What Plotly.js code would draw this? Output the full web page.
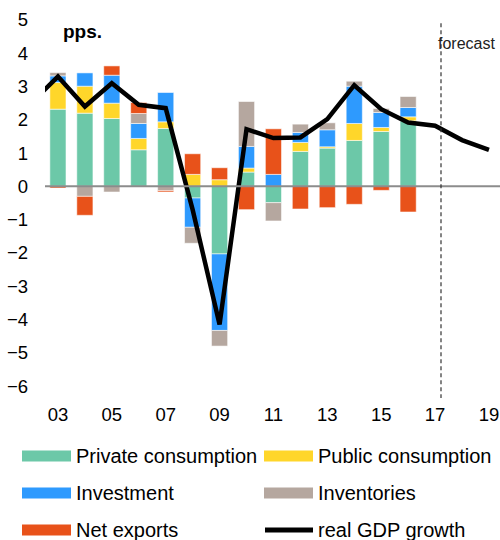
<!DOCTYPE html>
<html>
<head>
<meta charset="utf-8">
<script src="https://cdn.plot.ly/plotly-3.0.1.min.js"></script>
<style>
  html, body { margin: 0; padding: 0; background: #fff; }
  #chart { width: 500px; height: 540px; }
</style>
</head>
<body>
<div id="chart"></div>
<script>
// contributions to GDP growth, pps.
const years = [2003, 2004, 2005, 2006, 2007, 2008, 2009, 2010, 2011, 2012, 2013, 2014, 2015, 2016];
const privateCons = [2.32, 2.2, 2.04, 1.1, 1.74, -0.35, -2.03, 0.43, -0.49, 1.05, 1.15, 1.38, 1.65, 1.97];
const publicCons  = [0.8, 0.81, 0.46, 0.34, 0.2, 0.36, 0.2, 0.12, 0, 0.27, 0.04, 0.51, 0.12, 0.12];
const investment  = [0.2, 0.4, 0.84, 0.45, 0.88, -0.88, -2.3, 0.65, 0.36, 0.3, 0.51, 1.12, 0.45, 0.28];
const inventories = [0.1, -0.3, -0.17, 0.3, -0.13, -0.48, -0.47, 1.35, -0.55, 0.25, 0.21, 0.15, 0.12, 0.33];
const netExports  = [-0.05, -0.57, 0.28, 0.33, -0.04, 0.62, 0.36, -0.7, 1.37, -0.68, -0.64, -0.54, -0.12, -0.77];

// real GDP growth, % (2017-2019 forecast)
const gdpYears = [2002, 2003, 2004, 2005, 2006, 2007, 2008, 2009, 2010, 2011, 2012, 2013, 2014, 2015, 2016, 2017, 2018, 2019];
const gdpGrowth = [2.5, 3.3, 2.4, 3.1, 2.45, 2.35, -0.7, -4.15, 1.72, 1.45, 1.47, 2.02, 3.04, 2.32, 1.92, 1.82, 1.39, 1.1];

const tickYears = [2003, 2005, 2007, 2009, 2011, 2013, 2015, 2017, 2019];
const tickText = ['03', '05', '07', '09', '11', '13', '15', '17', '19'];
const forecastStart = 2017.22;

const FONT = 'Liberation Sans, Arial, sans-serif';

const series = [
    { name: 'Private consumption', y: privateCons, color: '#6CC8A8' },
    { name: 'Public consumption',  y: publicCons,  color: '#FFD62A' },
    { name: 'Investment',          y: investment,  color: '#2E9AFE' },
    { name: 'Inventories',         y: inventories, color: '#B5A79F' },
    { name: 'Net exports',         y: netExports,  color: '#E8521A' }
];

let traces = series.map(s => ({
    type: 'bar',
    name: s.name,
    x: years,
    y: s.y,
    width: 0.6,
    marker: { color: s.color, line: { color: 'rgba(255,255,255,0.55)', width: 1 } }
}));

traces.push({
    type: 'scatter',
    mode: 'lines',
    name: 'real GDP growth',
    x: gdpYears,
    y: gdpGrowth,
    line: { color: '#000000', width: 4.5 }
});

// plot box in pixels, used to place the hand made legend below it
const M = { l: 45, r: 0, t: 10, b: 142 };
const plotW = 500 - M.l - M.r;
const plotH = 540 - M.t - M.b;
const px = x => (x - M.l) / plotW;
const py = y => (540 - M.b - y) / plotH;

let shapes = [
    { type: 'line', xref: 'paper', yref: 'y', x0: 0, x1: 1, y0: 0, y1: 0,
      line: { color: '#8c8c8c', width: 2 }, layer: 'above' },
    { type: 'line', xref: 'x', yref: 'y', x0: forecastStart, x1: forecastStart, y0: 4.9, y1: -6.36,
      line: { color: '#333333', width: 1.2, dash: '4px,3px' }, layer: 'above' }
];

let annotations = [
    { xref: 'x', yref: 'y', x: 2003.1, y: 4.66, xanchor: 'left', yanchor: 'middle',
      text: '<b>pps.</b>', showarrow: false, font: { family: FONT, size: 19, color: '#000' } },
    { xref: 'x', yref: 'y', x: 2018.15, y: 4.3, xanchor: 'center', yanchor: 'middle',
      text: 'forecast', showarrow: false, font: { family: FONT, size: 16, color: '#222' } }
];

// legend: two columns, three rows
const legendRows = [456, 493, 530];
const legendCols = [22, 264];
const legendItems = series.map(s => ({ name: s.name, color: s.color, kind: 'rect' }));
legendItems.push({ name: 'real GDP growth', color: '#000000', kind: 'line' });

legendItems.forEach((item, i) => {
    let cx = legendCols[i % 2];
    let cy = legendRows[Math.floor(i / 2)];
    if (item.kind === 'rect') {
        shapes.push({ type: 'rect', xref: 'paper', yref: 'paper',
            x0: px(cx), x1: px(cx + 49), y0: py(cy - 5.5), y1: py(cy + 5.5),
            fillcolor: item.color, line: { width: 0 } });
    } else {
        shapes.push({ type: 'line', xref: 'paper', yref: 'paper',
            x0: px(cx + 1), x1: px(cx + 49), y0: py(cy), y1: py(cy),
            line: { color: item.color, width: 5 } });
    }
    annotations.push({ xref: 'paper', yref: 'paper', x: px(cx + 52), y: py(cy),
        xanchor: 'left', yanchor: 'middle', text: item.name, showarrow: false,
        font: { family: FONT, size: 20, color: '#000' } });
});

const layout = {
    width: 500, height: 540,
    margin: M,
    paper_bgcolor: '#ffffff', plot_bgcolor: '#ffffff',
    barmode: 'relative',
    bargap: 0.4,
    showlegend: false,
    hovermode: false,
    font: { family: FONT, color: '#000' },
    xaxis: {
        range: [2002.52, 2019.41],
        tickvals: tickYears, ticktext: tickText,
        showgrid: false, zeroline: false, showline: false, ticks: '',
        ticklabelstandoff: 3,
        tickfont: { family: FONT, size: 18.5, color: '#000' }
    },
    yaxis: {
        range: [-6.36, 5.3],
        tickvals: [-6, -5, -4, -3, -2, -1, 0, 1, 2, 3, 4, 5],
        showgrid: false, zeroline: false, showline: false, ticks: '',
        ticklabelstandoff: 16,
        tickfont: { family: FONT, size: 18.5, color: '#000' }
    },
    shapes: shapes,
    annotations: annotations
};

Plotly.newPlot('chart', traces, layout, { displayModeBar: false, staticPlot: true });
</script>
</body>
</html>
